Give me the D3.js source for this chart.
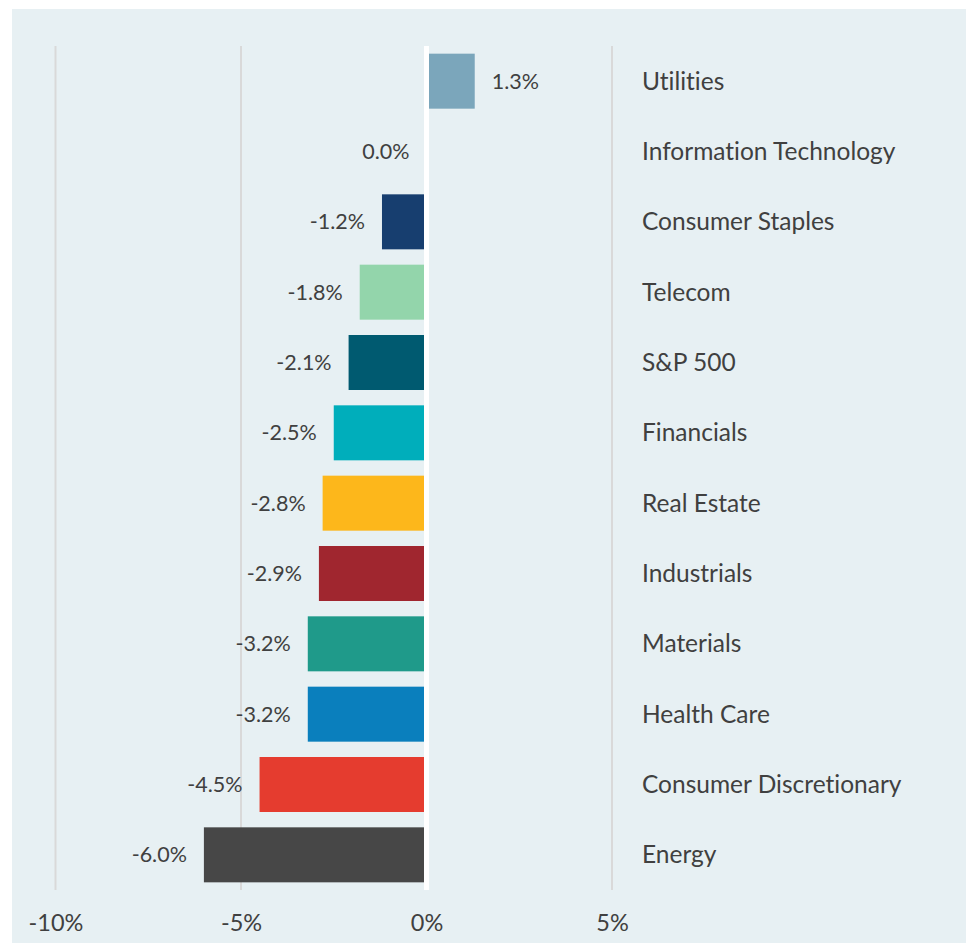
<!DOCTYPE html>
<html>
<head>
<meta charset="utf-8">
<script src="https://cdn.jsdelivr.net/npm/d3@7"></script>
<style>
  html, body { margin: 0; padding: 0; background: #ffffff; }
  svg { display: block; }
  text { font-variant-ligatures: none; font-feature-settings: "liga" 0; }
</style>
</head>
<body>
<div id="chart"></div>
<script>
// ---- data ----
const categories = ["Utilities", "Information Technology", "Consumer Staples", "Telecom", "S&P 500",
  "Financials", "Real Estate", "Industrials", "Materials", "Health Care", "Consumer Discretionary", "Energy"];
const values = [1.3, 0.0, -1.2, -1.8, -2.1, -2.5, -2.8, -2.9, -3.2, -3.2, -4.5, -6.0];
const barColors = ["#7ba6bb", "#7ba6bb", "#173e6f", "#93d5ab", "#005a70", "#00aebb",
  "#fdb71b", "#a0262f", "#1f9a8a", "#0a7fbd", "#e53c2f", "#474747"];
const tickValues = [-10, -5, 0, 5];
const tickLabels = ["-10%", "-5%", "0%", "5%"];

// ---- layout ----
const W = 966, H = 943;
const svg = d3.select("#chart").append("svg").attr("width", W).attr("height", H);
const FONT = "Lato, 'Open Sans', sans-serif";
const TEXT = "#404040";

svg.append("rect").attr("x", 12).attr("y", 9).attr("width", W - 12).attr("height", H - 9)
  .attr("fill", "#e7f0f3");

const x = d3.scaleLinear().domain([-10, 5]).range([55.5, 612]);
const y = d3.scaleBand().domain(categories).range([46, 890]).paddingInner(0.218).paddingOuter(0.109);

// gridlines
svg.append("g").selectAll("line").data(tickValues.filter(t => t !== 0)).join("line")
  .attr("x1", d => x(d)).attr("x2", d => x(d)).attr("y1", 46).attr("y2", 890)
  .attr("stroke", "#d9d9d9").attr("stroke-width", 2);

// bars
const data = categories.map((c, i) => ({ c, v: values[i], col: barColors[i] }));
svg.append("g").selectAll("rect").data(data).join("rect")
  .attr("x", d => x(Math.min(0, d.v)))
  .attr("width", d => Math.abs(x(d.v) - x(0)))
  .attr("y", d => y(d.c)).attr("height", y.bandwidth())
  .attr("fill", d => d.col);

// zero line
svg.append("line").attr("x1", x(0)).attr("x2", x(0)).attr("y1", 46).attr("y2", 890)
  .attr("stroke", "#ffffff").attr("stroke-width", 5);

// value labels (ASCII hyphen for minus)
const fmt = v => (v < 0 ? "-" : "") + Math.abs(v).toFixed(1) + "%";
svg.append("g").selectAll("text").data(data).join("text")
  .attr("x", d => d.v > 0 ? x(d.v) + 17 : x(d.v) - 17)
  .attr("y", d => y(d.c) + y.bandwidth() / 2)
  .attr("dy", "0.35em")
  .attr("text-anchor", d => d.v > 0 ? "start" : "end")
  .attr("font-family", FONT).attr("font-size", 21.5).attr("fill", TEXT)
  .text(d => fmt(d.v));

// category labels
svg.append("g").selectAll("text").data(categories).join("text")
  .attr("x", 642).attr("y", d => y(d) + y.bandwidth() / 2).attr("dy", "0.35em")
  .attr("font-family", FONT).attr("font-size", 24.5).attr("fill", TEXT)
  .text(d => d);

// x axis labels
const axis = d3.axisBottom(x).tickValues(tickValues).tickSize(0).tickPadding(0)
  .tickFormat((d, i) => tickLabels[i]);
const ga = svg.append("g").attr("transform", "translate(0,914)").call(axis);
ga.select(".domain").remove();
ga.selectAll("text").attr("font-family", FONT).attr("font-size", 23.5).attr("fill", TEXT)
  .attr("dy", "0.71em");
</script>
</body>
</html>
